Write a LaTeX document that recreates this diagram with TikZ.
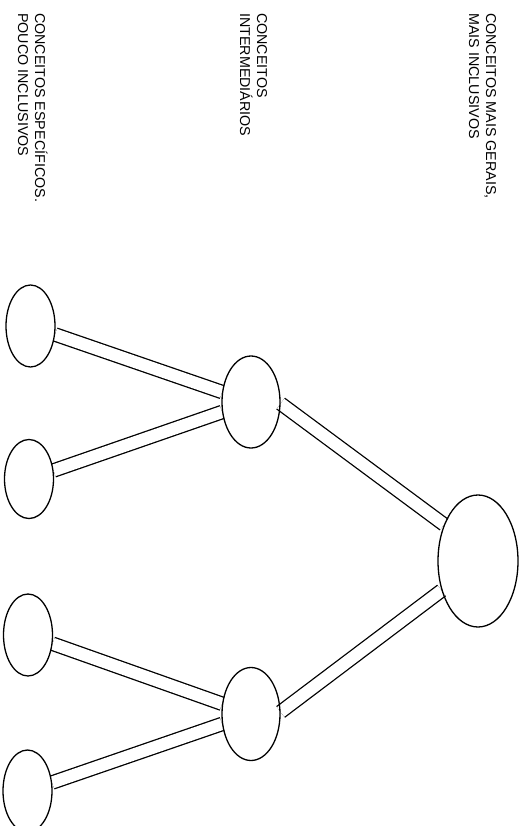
\documentclass[tikz,border=0pt]{standalone}
\usepackage{fontspec}
\setmainfont{Liberation Sans}
\usetikzlibrary{shapes.geometric,backgrounds}
\tikzset{
  concept/.style={draw, ellipse, line width=1.3pt, inner sep=0pt},
  link/.style={double, double distance=12pt, line width=1.3pt},
  lbl/.style={rotate=-90, anchor=base west, inner sep=0pt, font=\fontsize{14.3pt}{17pt}\selectfont}
}
\begin{document}
\begin{tikzpicture}[x=1pt,y=-1pt]
\useasboundingbox (0,0) rectangle (527,826);
% labels
\node[lbl] (l1a) at (486,13) {CONCEITOS MAIS GERAIS,};
\node[lbl] (l1b) at (469,13) {MAIS INCLUSIVOS};
\node[lbl] (l2a) at (257,13) {CONCEITOS};
\node[lbl] (l2b) at (240,13) {INTERMEDIÁRIOS};
\node[lbl] (l3a) at (35,13) {CONCEITOS ESPECÍFICOS.};
\node[lbl] (l3b) at (18,13) {POUCO INCLUSIVOS};
% concepts
\node[concept, minimum width=80pt, minimum height=132pt] (big) at (478,561) {};
\node[concept, minimum width=58pt, minimum height=92pt] (mu) at (251,402) {};
\node[concept, minimum width=58pt, minimum height=93pt] (ml) at (251,714) {};
\node[concept, minimum width=49pt, minimum height=82pt] (s1) at (30.5,326) {};
\node[concept, minimum width=49pt, minimum height=79pt] (s2) at (29,479) {};
\node[concept, minimum width=49pt, minimum height=82pt] (s3) at (28,635) {};
\node[concept, minimum width=49pt, minimum height=82pt] (s4) at (27.5,791) {};
% connectors
\begin{scope}[on background layer]
\draw[link] (s1) -- (mu);
\draw[link] (s2) -- (mu);
\draw[link] (s3) -- (ml);
\draw[link] (s4) -- (ml);
\draw[link] (mu.-3) -- (big.133);
\draw[link] (ml.4) -- (big.219);
\end{scope}
\end{tikzpicture}
\end{document}
